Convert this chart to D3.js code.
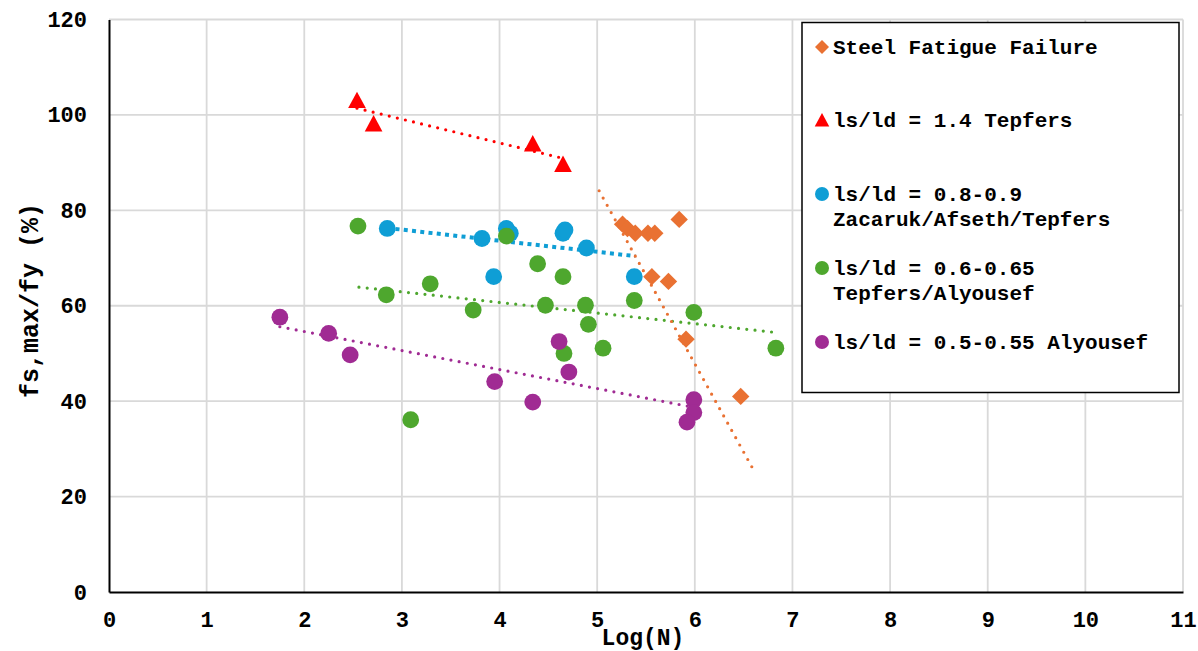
<!DOCTYPE html>
<html>
<head>
<meta charset="utf-8">
<script src="https://cdn.jsdelivr.net/npm/d3@7"></script>
<style>
  html, body { margin: 0; padding: 0; background: #fff; }
  svg { display: block; }
  text { font-family: "Liberation Mono", "Courier New", monospace; font-weight: bold; fill: #000; }
</style>
</head>
<body>
<svg id="chart" width="1198" height="651"></svg>
<script>
// series names, in drawing order
const seriesNames = ["Steel Fatigue Failure", "ls/ld = 1.4 Tepfers", "ls/ld = 0.8-0.9 Zacaruk/Afseth/Tepfers",
    "ls/ld = 0.6-0.65 Tepfers/Alyousef", "ls/ld = 0.5-0.55 Alyousef"];

// values: Log(N) and fs,max/fy (%)
const fatigueX = [5.26, 5.31, 5.39, 5.52, 5.59, 5.84, 5.56, 5.73, 5.91, 6.47];
const fatigueY = [77.1, 76.2, 75.2, 75.2, 75.2, 78.1, 66.1, 65.1, 53.0, 41.0];

const tepfers14X = [2.54, 2.71, 4.34, 4.65];
const tepfers14Y = [103.1, 98.2, 94.0, 89.7];

const ratio08X = [2.85, 3.82, 4.07, 4.11, 4.65, 4.67, 4.89, 3.94, 5.38];
const ratio08Y = [76.2, 74.1, 76.2, 75.2, 75.2, 75.9, 72.1, 66.1, 66.1];

const ratio06X = [2.55, 2.84, 3.09, 3.29, 3.73, 4.07, 4.39, 4.47, 4.65, 4.66, 4.88, 4.91, 5.06, 5.38, 5.99, 6.83];
const ratio06Y = [76.7, 62.3, 36.1, 64.6, 59.1, 74.6, 68.8, 60.1, 66.1, 50.0, 60.1, 56.1, 51.1, 61.1, 58.6, 51.1];

const ratio05X = [1.75, 2.25, 2.47, 3.95, 4.34, 4.61, 4.71, 5.99, 5.99, 5.92];
const ratio05Y = [57.6, 54.2, 49.7, 44.1, 39.8, 52.5, 46.1, 40.3, 37.6, 35.6];

// dotted trend lines, start and end points per series
const trendX0 = [5.02, 2.54, 2.85, 2.56, 1.75];
const trendY0 = [84.1, 101.4, 76.3, 63.9, 55.6];
const trendX1 = [6.62, 4.65, 5.39, 6.83, 5.99];
const trendY1 = [24.9, 90.9, 70.4, 54.4, 38.7];

const xTicks = [0, 1, 2, 3, 4, 5, 6, 7, 8, 9, 10, 11];
const yTicks = [0, 20, 40, 60, 80, 100, 120];

const colors = ["#E97132", "#FF0000", "#0F9ED5", "#4EA72E", "#A02B93"];
const shapes = ["diamond", "triangle", "circle", "circle", "circle"];

const allX = [fatigueX, tepfers14X, ratio08X, ratio06X, ratio05X];
const allY = [fatigueY, tepfers14Y, ratio08Y, ratio06Y, ratio05Y];

const series = seriesNames.map((name, i) => ({
    name: name,
    color: colors[i],
    shape: shapes[i],
    points: allX[i].map((x, j) => ({x: x, y: allY[i][j]})),
    trend: [[trendX0[i], trendY0[i]], [trendX1[i], trendY1[i]]]
}));

const svg = d3.select("#chart");
const plotLeft = 109, plotRight = 1183, plotTop = 19.5, plotBottom = 592;

const x = d3.scaleLinear().domain([0, 11]).range([plotLeft, plotRight]);
const y = d3.scaleLinear().domain([0, 120]).range([plotBottom, plotTop]);

// gridlines
const grid = svg.append("g");
grid.selectAll(".hg")
    .data(yTicks.filter(d => d > 0))
    .join("line")
    .attr("x1", plotLeft).attr("x2", plotRight)
    .attr("y1", d => y(d)).attr("y2", d => y(d))
    .attr("stroke", "#d9d9d9").attr("stroke-width", 1.8);
grid.selectAll(".vg")
    .data(xTicks.filter(d => d > 0))
    .join("line")
    .attr("x1", d => x(d)).attr("x2", d => x(d))
    .attr("y1", plotTop).attr("y2", plotBottom)
    .attr("stroke", "#d9d9d9").attr("stroke-width", 1.8);

// axes
const xAxis = svg.append("g")
    .attr("transform", `translate(0,${plotBottom})`)
    .call(d3.axisBottom(x).tickValues(xTicks).tickFormat(d3.format("d")).tickSize(0).tickPadding(19));
const yAxis = svg.append("g")
    .attr("transform", `translate(${plotLeft},0)`)
    .call(d3.axisLeft(y).tickValues(yTicks).tickFormat(d3.format("d")).tickSize(0).tickPadding(22));

[xAxis, yAxis].forEach(a => {
    a.select(".domain").attr("stroke", "#000").attr("stroke-width", 2);
    a.selectAll("text").style("font-size", "22px").style("font-family", "'Liberation Mono', monospace")
        .style("font-weight", "bold").attr("fill", "#000");
});

// axis titles
svg.append("text")
    .attr("x", 643)
    .attr("y", 645)
    .attr("text-anchor", "middle")
    .style("font-size", "23px")
    .text("Log(N)");

svg.append("text")
    .attr("transform", `translate(38,${(203 + 398) / 2}) rotate(-90)`)
    .attr("text-anchor", "middle")
    .style("font-size", "25px")
    .text("fs,max/fy (%)");

// trend lines
const line = d3.line().x(d => x(d[0])).y(d => y(d[1]));
svg.append("g").selectAll("path")
    .data(series.slice().reverse())
    .join("path")
    .attr("d", d => line(d.trend))
    .attr("fill", "none")
    .attr("stroke", d => d.color)
    .attr("stroke-width", d => d.name.includes("0.8-0.9") ? 4 : 3.2)
    .attr("stroke-linecap", d => d.name.includes("0.8-0.9") ? "butt" : "round")
    .attr("stroke-dasharray", d => d.name.includes("0.8-0.9") ? "4 4.3" : "0 8.3");

// marker shapes
function markerPath(shape, s) {
    if (shape === "diamond") return `M0,${-s}L${s},0L0,${s}L${-s},0Z`;
    if (shape === "triangle") return `M0,${-s}L${s * 1.04},${s * 0.94}L${-s * 1.04},${s * 0.94}Z`;
    return d3.symbol(d3.symbolCircle, Math.PI * s * s)();
}

const sizes = {diamond: 8.7, triangle: 8.5, circle: 8.4};

series.forEach(s => {
    svg.append("g").selectAll("path")
        .data(s.points)
        .join("path")
        .attr("transform", d => `translate(${x(d.x)},${y(d.y)})`)
        .attr("d", markerPath(s.shape, sizes[s.shape]))
        .attr("fill", s.color);
});

// legend
const legend = svg.append("g");
legend.append("rect")
    .attr("x", 802).attr("y", 22.5)
    .attr("width", 377).attr("height", 370)
    .attr("fill", "#fff")
    .attr("stroke", "#000").attr("stroke-width", 1.5);

const legendLines = [
    ["Steel Fatigue Failure"],
    ["ls/ld = 1.4 Tepfers"],
    ["ls/ld = 0.8-0.9", "Zacaruk/Afseth/Tepfers"],
    ["ls/ld = 0.6-0.65", "Tepfers/Alyousef"],
    ["ls/ld = 0.5-0.55 Alyousef"]
];
const legendRowY = [47, 120, 194, 268, 342];
const legendSizes = {diamond: 7, triangle: 7, circle: 7};

series.forEach((s, i) => {
    const row = legend.append("g").attr("transform", `translate(0,${legendRowY[i]})`);
    row.append("path")
        .attr("transform", "translate(822,0)")
        .attr("d", markerPath(s.shape, legendSizes[s.shape]))
        .attr("fill", s.color);
    row.append("text")
        .attr("x", 833)
        .attr("y", 7)
        .style("font-size", "21px")
        .selectAll("tspan")
        .data(legendLines[i])
        .join("tspan")
        .attr("x", 833)
        .attr("dy", (d, k) => k === 0 ? 0 : 24.5)
        .text(d => d);
});
</script>
</body>
</html>
